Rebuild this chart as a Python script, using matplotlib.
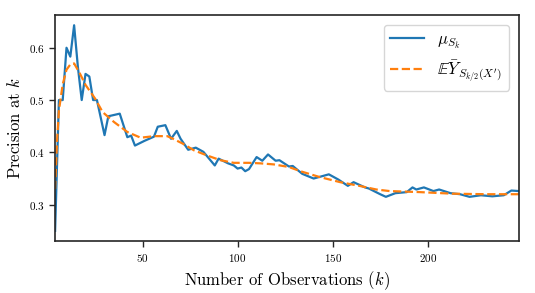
import numpy as np
import matplotlib
matplotlib.use("Agg")
import matplotlib.pyplot as plt

# precision at k (observed)
k_obs = [4, 6, 8, 10, 12, 14, 16, 18, 20, 22, 24, 26, 30, 32, 38, 42, 44, 46, 51, 56,
         58, 62, 65, 68, 70, 74, 78, 82, 88, 90, 95, 98, 100, 102, 104, 106, 110, 113,
         116, 120, 122, 127, 129, 134, 140, 143, 148, 153, 158, 161, 167, 169, 175, 178,
         183, 189, 192, 194, 198, 203, 206, 212, 217, 222, 228, 234, 240, 244, 248]
mu = [0.25, 0.50, 0.50, 0.60, 0.583, 0.643, 0.5625, 0.50, 0.55, 0.545, 0.50, 0.50, 0.433,
      0.469, 0.474, 0.429, 0.432, 0.413, 0.422, 0.430, 0.449, 0.452, 0.426, 0.441, 0.426,
      0.405, 0.409, 0.401, 0.375, 0.388, 0.379, 0.375, 0.369, 0.371, 0.364, 0.368, 0.391,
      0.384, 0.396, 0.384, 0.385, 0.373, 0.374, 0.359, 0.350, 0.353, 0.358, 0.348, 0.336,
      0.343, 0.333, 0.331, 0.320, 0.315, 0.322, 0.324, 0.333, 0.329, 0.333, 0.326, 0.329,
      0.322, 0.320, 0.315, 0.318, 0.316, 0.318, 0.327, 0.326]

# expected value curve
k_exp = [4, 5, 6, 8, 10, 12, 14, 17, 20, 25, 29, 35, 42, 49, 56, 63, 66, 71, 77, 84, 91,
         98, 106, 112, 119, 127, 133, 143, 154, 164, 173, 180, 196, 213, 231, 248]
ey = [0.33, 0.42, 0.48, 0.53, 0.558, 0.568, 0.570, 0.551, 0.529, 0.503, 0.477, 0.458,
      0.439, 0.428, 0.431, 0.431, 0.426, 0.417, 0.404, 0.394, 0.385, 0.380, 0.380, 0.379,
      0.377, 0.372, 0.364, 0.353, 0.343, 0.336, 0.329, 0.326, 0.324, 0.321, 0.320, 0.320]

plt.rcParams['font.family'] = 'serif'
plt.rcParams['font.serif'] = ['cmr10', 'DejaVu Serif']
plt.rcParams['mathtext.fontset'] = 'cm'
plt.rcParams['axes.formatter.use_mathtext'] = True

fig = plt.figure(figsize=(5.35, 2.93), dpi=100)
ax = fig.add_axes([0.103, 0.177, 0.867, 0.772])

ax.plot(k_obs, mu, color='#1f77b4', lw=1.6, label=r'$\mu_{S_k}$')
ax.plot(k_exp, ey, color='#ff7f0e', lw=1.6, ls='--',
        label=r'$\mathbb{E}\bar{Y}_{S_{k/2}(X^\prime)}$')

ax.set_xlim(4, 248)
ax.set_ylim(0.2303, 0.6627)
ax.set_xticks([50, 100, 150, 200])
ax.set_yticks([0.3, 0.4, 0.5, 0.6])
ax.set_xlabel(r'Number of Observations $(k)$', fontsize=12)
ax.set_ylabel(r'Precision at $k$', fontsize=12)
ax.tick_params(labelsize=8, length=4, width=1, color='#262626')
for s in ax.spines.values():
    s.set_color('#262626')
    s.set_linewidth(1.2)

ax.legend(loc='upper right', fontsize=12, framealpha=0.8, edgecolor='#cccccc',
          fancybox=True, borderaxespad=0.6)

fig.savefig('out.png', dpi=100)
